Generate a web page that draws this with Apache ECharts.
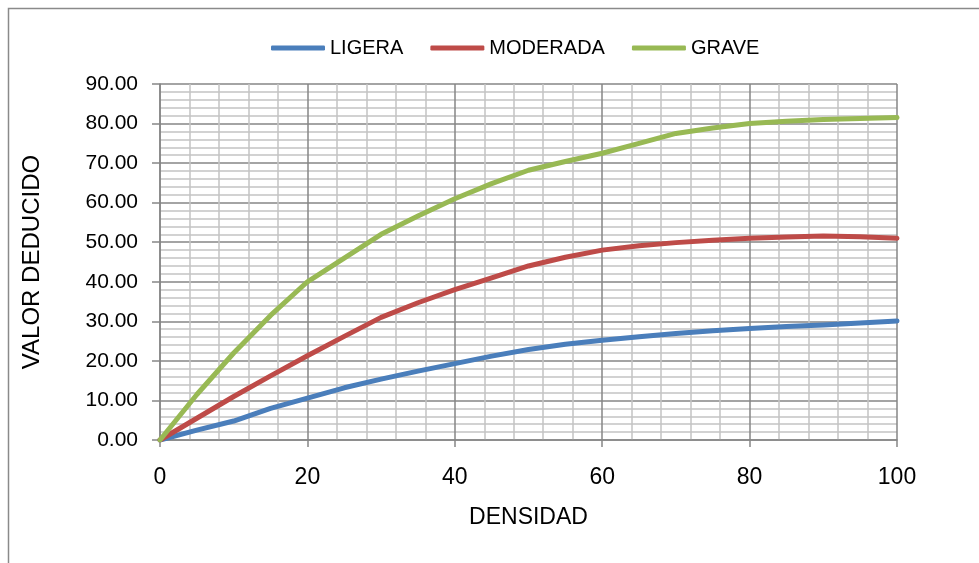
<!DOCTYPE html>
<html>
<head>
<meta charset="utf-8">
<script src="https://cdn.jsdelivr.net/npm/echarts@6/dist/echarts.min.js"></script>
<style>html,body{margin:0;padding:0;background:#fff}#c{width:979px;height:563px}</style>
</head>
<body>
<div id="c"></div>
<script>
const densidad = [0,5,10,15,20,25,30,35,40,45,50,55,60,65,70,75,80,85,90,95,100];
const ligera   = [0,2.5,4.8,8.0,10.6,13.2,15.4,17.4,19.3,21.2,22.9,24.2,25.2,26.1,26.9,27.6,28.2,28.7,29.1,29.6,30.1];
const moderada = [0,5.5,11.0,16.2,21.3,26.2,31.0,34.7,38.0,41.0,44.0,46.2,48.0,49.1,49.9,50.5,51.0,51.3,51.6,51.4,51.0];
const grave    = [0,11.5,22.0,31.5,40.0,46.0,52.0,56.6,61.0,64.8,68.2,70.4,72.5,75.0,77.5,78.9,80.0,80.6,81.0,81.3,81.5];
const seriesNames = ['LIGERA','MODERADA','GRAVE'];
const seriesColors = ['#4A7EBB','#BE4B48','#98B954'];
const seriesData = [ligera, moderada, grave];

const font = '"Liberation Sans", Arial, sans-serif';
const chart = echarts.init(document.getElementById('c'), null, {renderer:'canvas'});
chart.setOption({
  animation:false,
  backgroundColor:'#fff',
  graphic:[{type:'rect', shape:{x:8.5,y:8.5,width:1000,height:600}, style:{fill:'none', stroke:'#8a8a8a', lineWidth:1.5}, z:-1}],
  legend:{
    top:33, left:266,
    icon:'roundRect',
    itemWidth:54, itemHeight:5, itemGap:27,
    textStyle:{fontFamily:font, fontSize:20, color:'#000'},
    data:seriesNames
  },
  grid:{left:160, right:82, top:84, bottom:123, containLabel:false},
  xAxis:{
    type:'value', min:0, max:100, interval:20,
    name:'DENSIDAD', nameLocation:'middle', nameGap:66,
    nameTextStyle:{fontFamily:font, fontSize:23, color:'#000'},
    axisLine:{show:true, onZero:false, lineStyle:{color:'#868686', width:1.5}},
    axisTick:{show:true, length:7, lineStyle:{color:'#868686', width:1.5}},
    axisLabel:{fontFamily:font, fontSize:23, color:'#000', margin:26},
    splitLine:{show:true, lineStyle:{color:'#868686', width:1.5}},
    minorTick:{show:false, splitNumber:5},
    minorSplitLine:{show:true, lineStyle:{color:'#c4c4c4', width:1.5}}
  },
  yAxis:{
    type:'value', min:0, max:90, interval:10,
    name:'VALOR DEDUCIDO', nameLocation:'middle', nameGap:116, nameRotate:90,
    nameTextStyle:{fontFamily:font, fontSize:24, color:'#000'},
    axisLine:{show:true, lineStyle:{color:'#868686', width:1.5}},
    axisTick:{show:true, length:8, lineStyle:{color:'#868686', width:1.5}},
    axisLabel:{fontFamily:font, fontSize:21, color:'#000', margin:22, formatter:v=>v.toFixed(2)},
    splitLine:{show:true, lineStyle:{color:'#868686', width:1.5}},
    minorTick:{show:false, splitNumber:5},
    minorSplitLine:{show:true, lineStyle:{color:'#c4c4c4', width:1.5}}
  },
  series: seriesNames.map((n,i)=>({
    name:n, type:'line', symbol:'none', showSymbol:false,
    data: densidad.map((x,j)=>[x, seriesData[i][j]]),
    lineStyle:{color:seriesColors[i], width:5, cap:'round', join:'round'},
    itemStyle:{color:seriesColors[i]}
  }))
});
</script>
</body>
</html>
